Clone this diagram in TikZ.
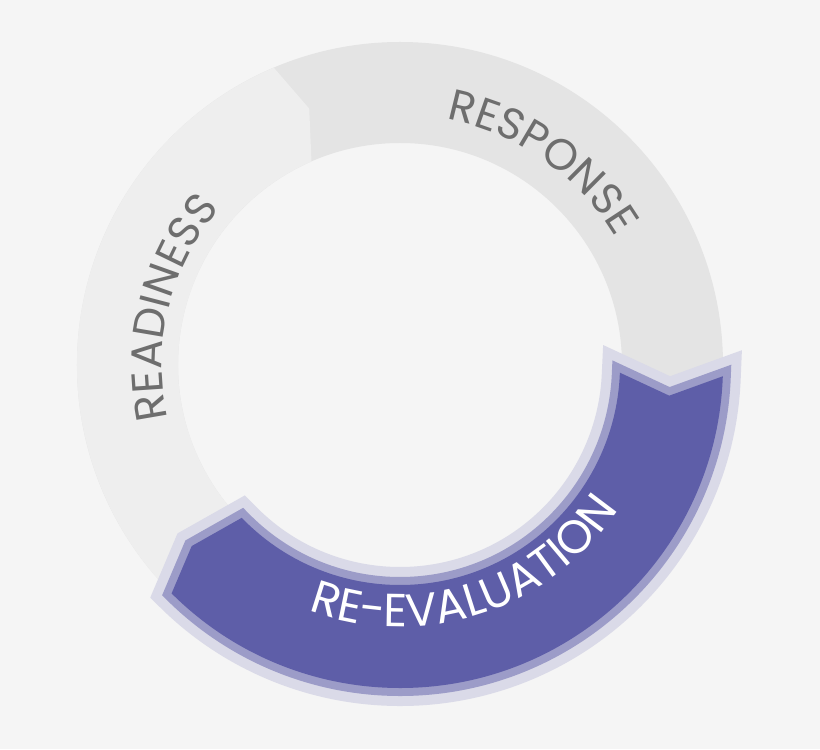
\documentclass[tikz,border=0pt]{standalone}
\usepackage{fontspec}
\newfontfamily\ringfont[LetterSpace=6]{Poppins}
\usetikzlibrary{decorations.text}
\definecolor{bgGray}{HTML}{F5F5F5}
\definecolor{respGray}{HTML}{E4E4E4}
\definecolor{readGray}{HTML}{EEEEEE}
\definecolor{labelGray}{HTML}{6E6E6E}
\definecolor{evalPurple}{HTML}{5E5EA8}
\definecolor{evalEdge}{HTML}{9C9CC8}
\definecolor{evalHalo}{HTML}{DADAE8}
\begin{document}
\begin{tikzpicture}
[
x=0.025cm, y=0.025cm,
% text bent along an arc
ringtext/.style={
decorate,
decoration={text along path, text align=center, text color=#1}
},
]
    \fill[bgGray] (-400,-384) rectangle (420,365);
    \useasboundingbox (-400,-384) rectangle (420,365);
    % response ring
    \fill[respGray, even odd rule] (0,0) circle (323) (0,0) circle (222);
    % readiness segment with its tip
    \fill[readGray] (240:222) -- (240:323)
        arc[start angle=240, end angle=113, radius=323]
        -- (109.5:272) -- (113.5:222)
        arc[start angle=113.5, end angle=240, radius=222] -- cycle;
    % re-evaluation segment
    \def\evalshape{(-2:220) -- (-6.5:271) -- (-2:323)
        arc[start angle=-2, end angle=-135, radius=323]
        -- (221:276) -- (224:220)
        arc[start angle=224, end angle=358, radius=220] -- cycle}
    \draw[evalHalo, line width=9mm] \evalshape;
    \draw[evalEdge, line width=4mm] \evalshape;
    \fill[evalPurple] \evalshape;
    % labels
    \path[ringtext=labelGray, decoration={text={|\ringfont\fontsize{31}{36}\selectfont|RESPONSE}}]
        (0,0) ++(100:250) arc[start angle=100, end angle=10, radius=250];
    \path[ringtext=labelGray, decoration={text={|\ringfont\fontsize{31}{36}\selectfont|READINESS}}]
        (0,0) ++(215:238) arc[start angle=215, end angle=117, radius=238];
    \path[ringtext=white, decoration={text={|\ringfont\addfontfeature{LetterSpace=8}\fontsize{33}{38}\selectfont|RE-EVALUATION}}]
        (0,0) ++(236:262) arc[start angle=236, end angle=340, radius=262];
\end{tikzpicture}
\end{document}
